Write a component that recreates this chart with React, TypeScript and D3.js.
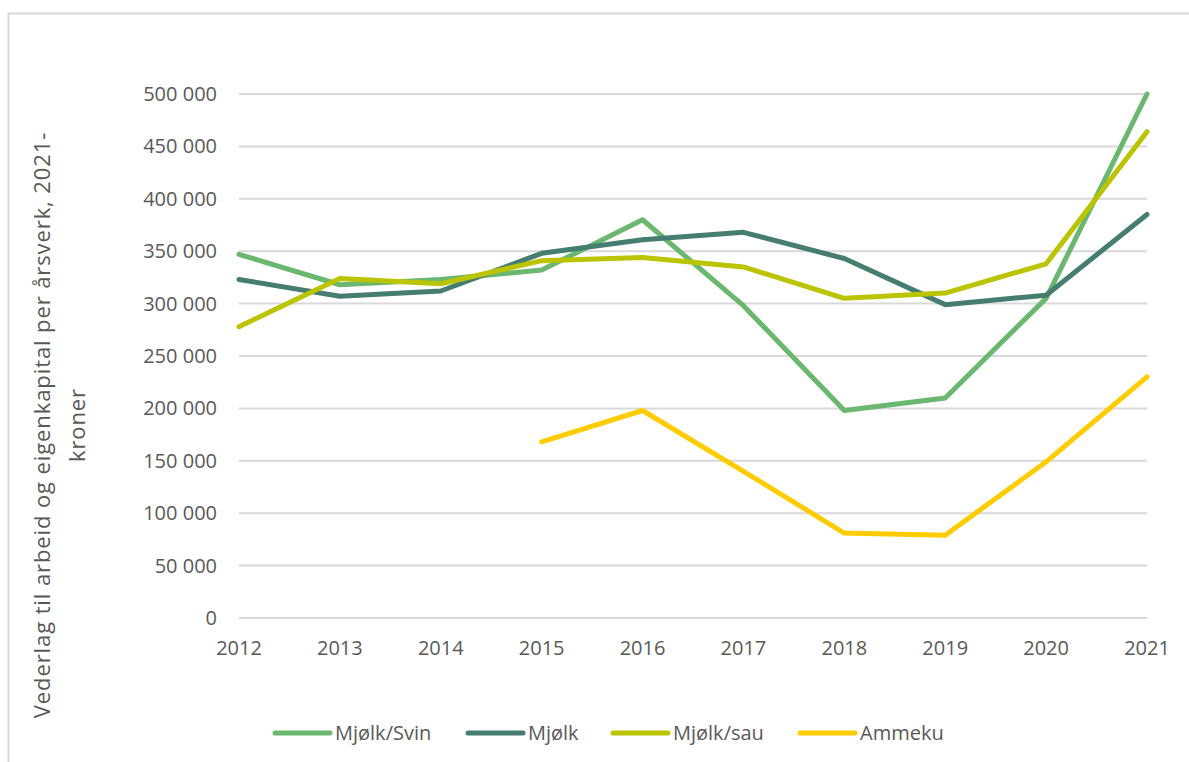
import { useEffect, useRef } from 'react';
import * as d3 from 'd3';

const years = [2012, 2013, 2014, 2015, 2016, 2017, 2018, 2019, 2020, 2021];
const mjolkSvin = [347000, 318000, 323000, 332000, 380000, 298000, 198000, 210000, 305000, 500000];
const mjolk = [323000, 307000, 312000, 348000, 361000, 368000, 343000, 299000, 308000, 385000];
const mjolkSau = [278000, 324000, 319000, 341000, 344000, 335000, 305000, 310000, 338000, 464000];
const ammeku: (number | null)[] = [null, null, null, 168000, 198000, 140000, 81000, 79000, 149000, 230000];
const yTicks = [0, 50000, 100000, 150000, 200000, 250000, 300000, 350000, 400000, 450000, 500000];

const seriesNames = ['Mjølk/Svin', 'Mjølk', 'Mjølk/sau', 'Ammeku'];
const seriesColors = ['#6ab76f', '#467d71', '#bbc400', '#ffcc00'];
const seriesValues = [mjolkSvin, mjolk, mjolkSau, ammeku];

const yTitle = ['Vederlag til arbeid og eigenkapital per årsverk, 2021-', 'kroner'];

export default function App() {
  const svgRef = useRef<SVGSVGElement>(null);
  const width = 1189;
  const height = 762;

  useEffect(() => {
    if (!svgRef.current) return;
    const svg = d3.select(svgRef.current);
    svg.selectAll('*').remove();

    const font = '"Open Sans", sans-serif';
    const textColor = '#595959';

    // chart frame (only left/top edges visible in the crop)
    svg.append('rect')
      .attr('x', 8.5).attr('y', 13.5)
      .attr('width', 1300).attr('height', 900)
      .attr('fill', '#fff')
      .attr('stroke', '#d9d9d9')
      .attr('stroke-width', 2);

    const x = d3.scalePoint<number>().domain(years).range([239, 1147]);
    const y = d3.scaleLinear().domain([0, 500000]).range([618, 94]);

    const locale = d3.formatLocale({ decimal: ',', thousands: ' ', grouping: [3], currency: ['', ''] });
    const fmt = locale.format(',d');

    // gridlines
    svg.append('g')
      .selectAll('line')
      .data(yTicks)
      .enter()
      .append('line')
      .attr('x1', 239).attr('x2', 1147)
      .attr('y1', d => y(d)).attr('y2', d => y(d))
      .attr('stroke', '#d9d9d9')
      .attr('stroke-width', 2);

    // y tick labels
    svg.append('g')
      .selectAll('text')
      .data(yTicks)
      .enter()
      .append('text')
      .attr('x', 217)
      .attr('y', d => y(d))
      .attr('dy', '0.35em')
      .attr('text-anchor', 'end')
      .attr('font-family', font)
      .attr('font-size', 20)
      .attr('fill', textColor)
      .text(d => fmt(d));

    // x labels
    svg.append('g')
      .selectAll('text')
      .data(years)
      .enter()
      .append('text')
      .attr('x', d => x(d) as number)
      .attr('y', 648)
      .attr('dy', '0.35em')
      .attr('text-anchor', 'middle')
      .attr('font-family', font)
      .attr('font-size', 20)
      .attr('fill', textColor)
      .text(d => String(d));

    // y axis title
    const title = svg.append('text')
      .attr('transform', 'translate(42,425) rotate(-90)')
      .attr('text-anchor', 'middle')
      .attr('font-family', font)
      .attr('font-size', 22)
      .attr('letter-spacing', 0.9)
      .attr('fill', textColor);
    yTitle.forEach((t, i) => {
      title.append('tspan')
        .attr('x', 0)
        .attr('dy', i === 0 ? '0.35em' : 35)
        .text(t);
    });

    // lines
    const line = d3.line<number | null>()
      .defined(d => d !== null)
      .x((_, i) => x(years[i]) as number)
      .y(d => y(d as number));

    seriesValues.forEach((vals, i) => {
      svg.append('path')
        .datum(vals)
        .attr('d', line)
        .attr('fill', 'none')
        .attr('stroke', seriesColors[i])
        .attr('stroke-width', 5)
        .attr('stroke-linejoin', 'round')
        .attr('stroke-linecap', 'round');
    });

    // legend
    const legendX = [275, 468, 613, 800];
    const legend = svg.append('g');
    seriesNames.forEach((name, i) => {
      legend.append('line')
        .attr('x1', legendX[i]).attr('x2', legendX[i] + 55)
        .attr('y1', 733).attr('y2', 733)
        .attr('stroke', seriesColors[i])
        .attr('stroke-width', 5)
        .attr('stroke-linecap', 'round');
      legend.append('text')
        .attr('x', legendX[i] + 60)
        .attr('y', 733)
        .attr('dy', '0.35em')
        .attr('font-family', font)
        .attr('font-size', 20)
        .attr('fill', textColor)
        .text(name);
    });
  }, []);

  return (
    <svg
      ref={svgRef}
      width={width}
      height={height}
      style={{ position: 'fixed', left: 0, top: 0, background: '#fff' }}
    />
  );
}
